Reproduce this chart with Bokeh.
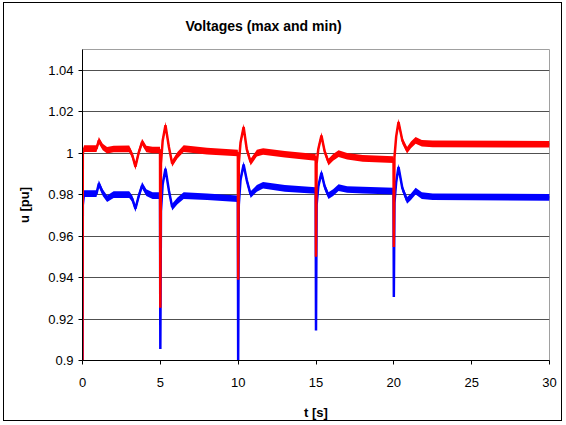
from bokeh.plotting import figure
from bokeh.models import ColumnDataSource, FixedTicker
from bokeh.embed import file_html
from bokeh.resources import INLINE

# time [s]
t = [0.0, 0.02, 0.1, 0.9, 1.05, 1.3, 1.58, 2.0, 3.0, 3.2, 3.4, 3.6, 3.83, 4.1, 4.5,
     4.98, 5.0, 5.04, 5.15, 5.33, 5.55, 5.76, 6.1, 6.5, 8.0,
     9.98, 10.0, 10.04, 10.15, 10.35, 10.55, 10.8, 11.2, 11.6, 13.0,
     14.98, 15.0, 15.04, 15.15, 15.35, 15.55, 15.8, 16.1, 16.45, 17.0, 18.0,
     19.98, 20.0, 20.04, 20.15, 20.3, 20.55, 20.85, 21.1, 21.4, 21.8, 22.5, 30.0]

# maximum voltage [pu]
u_max = [0.900, 1.000, 1.0022, 1.0022, 1.0062, 1.0030, 1.0014, 1.0020, 1.0021, 0.9990, 0.9935, 1.0000, 1.0054, 1.0020, 1.0015,
         1.0015, 0.9254, 0.9950, 1.0060, 1.0135, 1.0030, 0.9950, 0.9990, 1.0022, 1.0010,
         1.0001, 0.9390, 0.9950, 1.0050, 1.0126, 1.0020, 0.9957, 1.0000, 1.0008, 0.9995,
         0.9980, 0.9500, 0.9950, 1.0020, 1.0085, 1.0010, 0.9957, 0.9980, 0.9998, 0.9985, 0.9975,
         0.9969, 0.9547, 0.9980, 1.0080, 1.0150, 1.0060, 1.0014, 1.0040, 1.0062, 1.0048, 1.0045, 1.0043]

# minimum voltage [pu]
u_min = [0.900, 0.975, 0.9805, 0.9805, 0.9853, 0.9810, 0.9780, 0.9800, 0.9800, 0.9780, 0.9732, 0.9790, 0.9845, 0.9810, 0.9795,
         0.9795, 0.9056, 0.9720, 0.9850, 0.9925, 0.9820, 0.9740, 0.9770, 0.9795, 0.9790,
         0.9780, 0.9000, 0.9750, 0.9870, 0.9945, 0.9870, 0.9800, 0.9830, 0.9845, 0.9830,
         0.9820, 0.9145, 0.9750, 0.9840, 0.9905, 0.9840, 0.9795, 0.9810, 0.9834, 0.9825, 0.9822,
         0.9817, 0.9306, 0.9760, 0.9860, 0.9933, 0.9830, 0.9772, 0.9790, 0.9817, 0.9795, 0.9790, 0.9787]

title_text = "Voltages (max and min)"
y_ticks = [0.9, 0.92, 0.94, 0.96, 0.98, 1.0, 1.02, 1.04]
y_labels = ["0.9", "0.92", "0.94", "0.96", "0.98", "1", "1.02", "1.04"]
x_ticks = [0, 5, 10, 15, 20, 25, 30]

half = 0.0016  # half thickness of the oscillation band

src = ColumnDataSource(data=dict(
    t=t,
    u_max=u_max, u_min=u_min,
    max_lo=[v - half for v in u_max], max_hi=[v + half for v in u_max],
    min_lo=[v - half for v in u_min], min_hi=[v + half for v in u_min],
))

FONT = "Liberation Sans"

p = figure(width=559, height=419, x_range=(0, 30), y_range=(0.9, 1.05),
           output_backend="svg", toolbar_location=None,
           min_border_left=78, min_border_right=14, min_border_top=46, min_border_bottom=62,
           title=title_text)
p.styles = {"border": "1px solid #000", "margin-left": "3px", "margin-top": "2px"}

p.title.text_font = FONT
p.title.text_font_size = "14px"
p.title.text_font_style = "bold"
p.title.align = "left"
p.title.offset = 103
p.title.vertical_align = "top"
p.title.standoff = 27
p.title.text_color = "#000000"

p.background_fill_color = "#ffffff"
p.border_fill_color = "#ffffff"
p.outline_line_color = "#a0a0a0"
p.outline_line_width = 1

p.xgrid.visible = False
p.ygrid.grid_line_color = "#505050"
p.ygrid.grid_line_width = 1

p.xaxis.ticker = FixedTicker(ticks=x_ticks)
p.yaxis.ticker = FixedTicker(ticks=y_ticks)
p.yaxis.major_label_overrides = {v: s for v, s in zip(y_ticks, y_labels)}

for ax in (p.xaxis[0], p.yaxis[0]):
    ax.axis_line_color = "#000000"
    ax.major_tick_line_color = "#000000"
    ax.major_tick_out = 4
    ax.major_tick_in = 0
    ax.minor_tick_out = 0
    ax.minor_tick_in = 0
    ax.major_label_text_font = FONT
    ax.major_label_text_font_size = "13px"
    ax.major_label_text_color = "#000000"
    ax.axis_label_text_font = FONT
    ax.axis_label_text_font_size = "13px"
    ax.axis_label_text_font_style = "bold"
    ax.axis_label_text_color = "#000000"

p.xaxis.axis_label = "t [s]"
p.yaxis.axis_label = "u [pu]"
p.xaxis.major_label_standoff = 13
p.xaxis.axis_label_standoff = 15
p.yaxis.major_label_standoff = 5
p.yaxis.axis_label_standoff = 13

# min (blue) first, then max (red) on top
p.varea(x="t", y1="min_lo", y2="min_hi", source=src, fill_color="#0000ff")
p.line(x="t", y="u_min", source=src, line_color="#0000ff", line_width=2.5)
p.varea(x="t", y1="max_lo", y2="max_hi", source=src, fill_color="#ff0000")
p.line(x="t", y="u_max", source=src, line_color="#ff0000", line_width=2.5)

open("out.html", "w").write(file_html(p, INLINE))
